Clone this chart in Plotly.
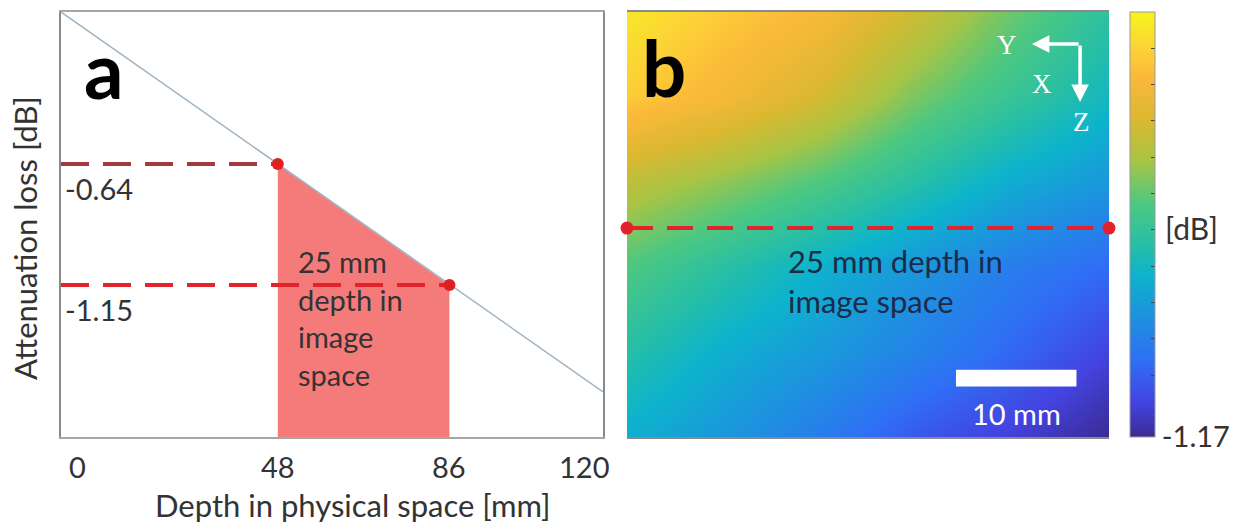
import plotly.graph_objects as go

# ---------------- data: panel a ----------------
depth_mm = [0, 120]
atten_db = [0.0, -1.60]
marked_depth = [48, 86]
marked_atten = [-0.64, -1.15]
marked_labels = ["-0.64", "-1.15"]
x_tick_vals = [0, 48, 86, 120]
x_tick_text = ["0", "48", "86", "120"]
y_axis_min = -1.79

# ---------------- data: panel b ----------------
img_x_mm = [0, 8, 16, 24, 32, 40]
img_y_mm = [0, 7.08, 14.16, 21.24, 28.32, 35.4]
heat_z = [
    [-0.04, -0.12, -0.19, -0.33, -0.49, -0.62],
    [-0.12, -0.20, -0.31, -0.47, -0.59, -0.70],
    [-0.36, -0.44, -0.53, -0.64, -0.75, -0.82],
    [-0.53, -0.63, -0.73, -0.82, -0.91, -0.97],
    [-0.64, -0.74, -0.81, -0.89, -0.98, -1.08],
    [-0.74, -0.82, -0.91, -1.02, -1.09, -1.17],
]
cbar_min, cbar_max = -1.17, 0.0
cbar_minor = [-0.1, -0.2, -0.3, -0.4, -0.5, -0.6, -0.7, -0.8, -0.9, -1.0, -1.1]
line_depth_img_mm = 18.0
scale_bar_mm = 10
scale_bar_x0 = 27.3
scale_bar_y = [29.8, 31.2]

parula = [
    [0.00, "#3b2b95"], [0.08, "#4343e0"], [0.18, "#2f6ff5"], [0.28, "#1e90e0"],
    [0.38, "#0db3cc"], [0.45, "#25bea8"], [0.55, "#4ec880"], [0.65, "#a8c444"],
    [0.75, "#dcb830"], [0.85, "#fbb93a"], [0.92, "#fcd535"], [1.00, "#f6f41c"],
]

FONT = "Lato"
TXT = "#333333"

fig = go.Figure()

# shaded region under line between the marked depths
fig.add_trace(go.Scatter(
    x=[marked_depth[0], marked_depth[0], marked_depth[1], marked_depth[1]],
    y=[y_axis_min, marked_atten[0], marked_atten[1], y_axis_min],
    fill="toself", fillcolor="#f57b7b", mode="lines", line=dict(width=0),
    hoverinfo="skip", showlegend=False, xaxis="x", yaxis="y"))

fig.add_trace(go.Scatter(x=depth_mm, y=atten_db, mode="lines",
                         line=dict(color="#9fb4c4", width=1.5),
                         showlegend=False, xaxis="x", yaxis="y"))

dash_colors = ["#a33a3f", "#e3232b"]
for d, v, c in zip(marked_depth, marked_atten, dash_colors):
    fig.add_trace(go.Scatter(x=[0, d], y=[v, v], mode="lines",
                             line=dict(color=c, width=4, dash="28px,14px"),
                             showlegend=False, xaxis="x", yaxis="y"))

fig.add_trace(go.Scatter(x=marked_depth, y=marked_atten, mode="markers",
                         marker=dict(color="#e0201f", size=12),
                         showlegend=False, xaxis="x", yaxis="y", cliponaxis=False))

# heatmap
fig.add_trace(go.Heatmap(
    x=img_x_mm, y=img_y_mm, z=heat_z, zsmooth="best",
    colorscale=parula, zmin=cbar_min, zmax=cbar_max,
    xaxis="x2", yaxis="y2",
    colorbar=dict(
        x=1130 / 1256, xanchor="left", xpad=0, ypad=0,
        y=1 - 437 / 529, yanchor="bottom", len=425 / 529, lenmode="fraction",
        thickness=25, thicknessmode="pixels",
        outlinecolor="#9a9a9a", outlinewidth=1,
        tickvals=[cbar_max] + cbar_minor + [cbar_min],
        ticktext=["0"] + [""] * len(cbar_minor) + ["-1.17"],
        ticks="inside", ticklen=4, tickcolor="#444444", tickwidth=1,
        tickfont=dict(family=FONT, size=29, color=TXT),
    )))

img_w = img_x_mm[-1]
fig.add_trace(go.Scatter(x=[0, img_w], y=[line_depth_img_mm] * 2, mode="lines+markers",
                         line=dict(color="#e3232b", width=4, dash="26px,14px"),
                         marker=dict(color="#e3232b", size=13),
                         showlegend=False, xaxis="x2", yaxis="y2", cliponaxis=False))

y_dom = [1 - 437 / 529, 1 - 12 / 529]
fig.update_layout(
    width=1256, height=529, margin=dict(l=0, r=0, t=0, b=0),
    paper_bgcolor="white", plot_bgcolor="white",
    font=dict(family=FONT, color=TXT),
    xaxis=dict(domain=[61 / 1256, 603 / 1256], range=[0, 120], showgrid=False,
               zeroline=False, showticklabels=False, ticks="",
               showline=True, mirror=True, linecolor="#a6a6a6", linewidth=2),
    yaxis=dict(domain=y_dom, range=[y_axis_min, 0], showgrid=False, zeroline=False,
               showticklabels=False, ticks="",
               showline=True, mirror=True, linecolor="#a6a6a6", linewidth=2),
    xaxis2=dict(domain=[627 / 1256, 1109 / 1256], range=[0, img_w], showgrid=False,
                zeroline=False, showticklabels=False, ticks="",
                showline=True, mirror=True, linecolor="#8a8a8a", linewidth=1.5),
    yaxis2=dict(domain=y_dom, range=[img_y_mm[-1], 0], showgrid=False, zeroline=False,
                showticklabels=False, ticks="",
                showline=True, mirror=True, linecolor="#8a8a8a", linewidth=1.5),
)

ann = []
# x tick labels (panel a)
for v, t in zip(x_tick_vals, x_tick_text):
    anchor = "left" if v == x_tick_vals[0] else ("right" if v == x_tick_vals[-1] else "center")
    shift = 6 if anchor == "left" else (8 if anchor == "right" else 0)
    ann.append(dict(x=v, y=y_axis_min, xref="x", yref="y", text=t, showarrow=False,
                    xanchor=anchor, yanchor="top", xshift=shift, yshift=-10,
                    font=dict(family=FONT, size=29, color=TXT)))
# y labels under the dashed lines
for v, t in zip(marked_atten, marked_labels):
    ann.append(dict(x=0, y=v, xref="x", yref="y", text=t, showarrow=False,
                    xanchor="left", yanchor="top", xshift=2, yshift=-5,
                    font=dict(family=FONT, size=29, color=TXT)))
# axis titles
ann.append(dict(x=352 / 1256, y=1 - 505 / 529, xref="paper", yref="paper",
                text="Depth in physical space [mm]", showarrow=False,
                xanchor="center", yanchor="middle",
                font=dict(family=FONT, size=31, color=TXT)))
ann.append(dict(x=25 / 1256, y=1 - 238 / 529, xref="paper", yref="paper",
                text="Attenuation loss [dB]", showarrow=False, textangle=-90,
                xanchor="center", yanchor="middle",
                font=dict(family=FONT, size=31, color=TXT)))
# panel letters
ann.append(dict(x=9.6, y=-0.24, xref="x", yref="y", text="<b>a</b>", showarrow=False,
                font=dict(family=FONT, size=78, color="black")))
ann.append(dict(x=3.1, y=4.6, xref="x2", yref="y2", text="<b>b</b>", showarrow=False,
                font=dict(family=FONT, size=78, color="black")))
# shaded region text
ann.append(dict(x=52.0, y=-0.97, xref="x", yref="y",
                text="25 mm<br>depth in<br>image<br>space", showarrow=False,
                xanchor="left", yanchor="top", align="left",
                font=dict(family=FONT, size=29, color=TXT)))
# panel b text
ann.append(dict(x=13.2, y=19.0, xref="x2", yref="y2",
                text="25 mm depth in<br>image space", showarrow=False,
                xanchor="left", yanchor="top", align="left",
                font=dict(family=FONT, size=31, color="#1c2b4a")))
# scale bar label
ann.append(dict(x=scale_bar_x0 + scale_bar_mm / 2, y=scale_bar_y[1] + 0.6,
                xref="x2", yref="y2", text="10 mm", showarrow=False,
                xanchor="center", yanchor="top",
                font=dict(family=FONT, size=29, color="white")))
# axis triad arrows
corner = (37.6, 2.67)
ann.append(dict(x=33.6, y=corner[1], ax=corner[0], ay=corner[1], xref="x2", yref="y2",
                axref="x2", ayref="y2", text="", showarrow=True, arrowhead=2,
                arrowsize=1, arrowwidth=3.5, arrowcolor="white"))
ann.append(dict(x=corner[0], y=7.5, ax=corner[0], ay=corner[1], xref="x2", yref="y2",
                axref="x2", ayref="y2", text="", showarrow=True, arrowhead=2,
                arrowsize=1, arrowwidth=3.5, arrowcolor="white"))
for t, xx, yy in [("Y", 31.5, 2.75), ("X", 34.4, 6.0), ("Z", 37.7, 9.2)]:
    ann.append(dict(x=xx, y=yy, xref="x2", yref="y2", text=t, showarrow=False,
                    font=dict(family="Liberation Serif", size=27, color="white")))
# colorbar unit
ann.append(dict(x=1163 / 1256, y=1 - 228 / 529, xref="paper", yref="paper",
                text="[dB]", showarrow=False, xanchor="left", yanchor="middle",
                font=dict(family=FONT, size=30, color=TXT)))
fig.update_layout(annotations=ann)

fig.add_shape(type="rect", xref="x2", yref="y2",
              x0=scale_bar_x0, x1=scale_bar_x0 + scale_bar_mm,
              y0=scale_bar_y[0], y1=scale_bar_y[1],
              fillcolor="white", line=dict(width=0))

fig.write_html("out.html")
